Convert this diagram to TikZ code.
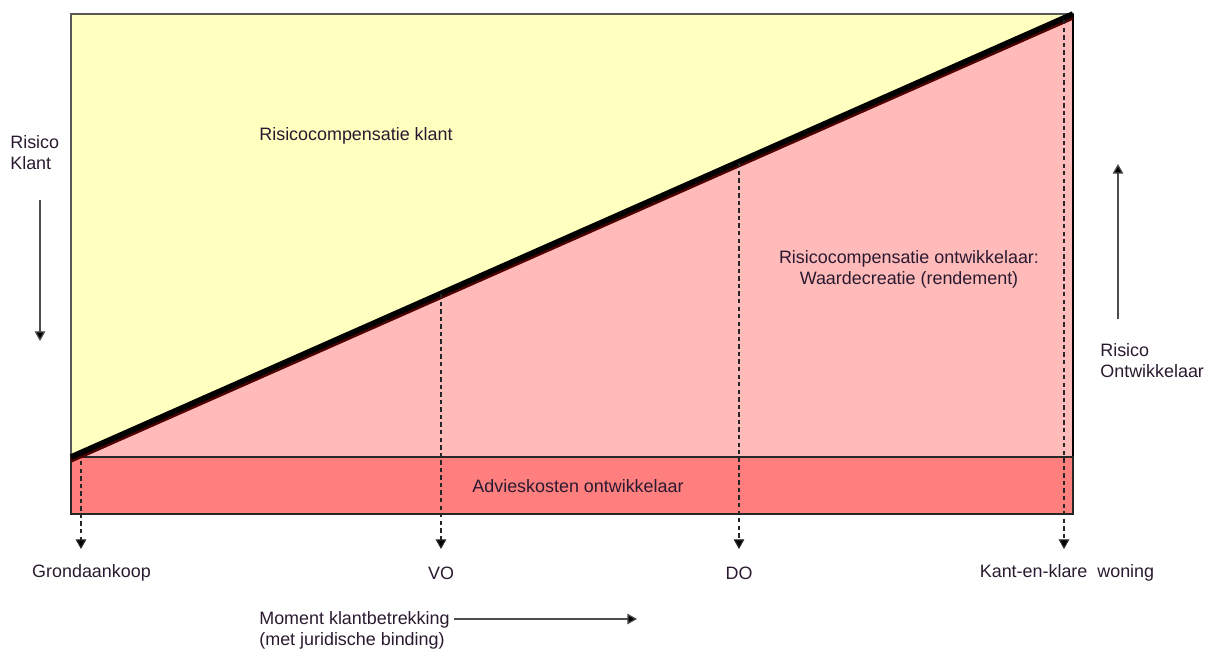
\documentclass[tikz,border=0pt]{standalone}
\usepackage{fontspec}
\setmainfont{Liberation Sans}
\usetikzlibrary{arrows.meta}

\definecolor{klantgeel}{HTML}{FFFFC0}
\definecolor{ontwroze}{HTML}{FFBABA}
\definecolor{adviesrood}{HTML}{FF7E7E}
\definecolor{tekstdonker}{HTML}{2A1A30}

\begin{document}
\begin{tikzpicture}[x=0.02cm,y=-0.02cm,
  lbl/.style={font=\fontsize{10.2}{12}\selectfont, text=tekstdonker, inner sep=0pt},
  pijl/.style={-{Triangle[width=6pt,length=5.5pt,fill=black]}, black!70, line width=0.7pt},
  streep/.style={pijl, black!85, dash pattern=on 2.5pt off 1.8pt}]
\useasboundingbox (0,0) rectangle (1206,653);

% vlakken
\coordinate (lo) at (71,457);
\coordinate (rb) at (1073,14);
\fill[klantgeel] (71,14) rectangle (1073,457);
\fill[ontwroze] (lo) -- (rb) -- (1073,457) -- cycle;
\draw[black!65, line width=0.8pt] (71,14) rectangle (1073,457);
\draw[black, line width=0.8pt] (1073,14) -- (1073,457);
\draw[fill=adviesrood, draw=black!85, line width=0.8pt] (71,457) rectangle (1073,514);

% diagonaal
\draw[line width=2pt, red!30!black] ([yshift=-2.2pt]lo) -- ([yshift=-2.2pt]rb);
\draw[line width=3.2pt, black] (lo) -- (rb);

% teksten in de vlakken
\node[lbl] (rklant) at (356,136) {Risicocompensatie klant};
\node[lbl, align=center] (rontw) at (909,269.5)
  {Risicocompensatie ontwikkelaar:\\Waardecreatie (rendement)};
\node[lbl] (advies) at (578,486) {Advieskosten ontwikkelaar};

% risico-pijlen
\node[lbl, align=left, anchor=west] (klant) at (10,152.5) {Risico\\Klant};
\coordinate (klantA) at (40,200);
\coordinate (klantB) at (40,341);
\draw[pijl] (klantA) -- (klantB);

\node[lbl, align=left, anchor=west] (ontw) at (1100,360.5) {Risico\\Ontwikkelaar};
\coordinate (ontwA) at (1118,319);
\coordinate (ontwB) at (1118,164);
\draw[pijl] (ontwA) -- (ontwB);

% momenten
\foreach \x/\t/\lx/\naam/\tekst in {81/461/91.5/grond/Grondaankoop,
    441/294/441/vo/VO, 739/163/739/do/DO,
    1064/20/1067/kant/Kant-en-klare\ \ woning}{
  \coordinate (\naam top) at (\x,\t);
  \coordinate (\naam end) at (\x,549);
  \draw[streep] (\naam top) -- (\naam end);
  \node[lbl] (\naam) at (\lx,573) {\tekst};
}

% klantbetrekking
\node[lbl, align=left, anchor=west] (moment) at (259,630)
  {Moment klantbetrekking\\(met juridische binding)};
\coordinate (momA) at (454,619);
\coordinate (momB) at (637,619);
\draw[pijl] (momA) -- (momB);
\end{tikzpicture}
\end{document}
